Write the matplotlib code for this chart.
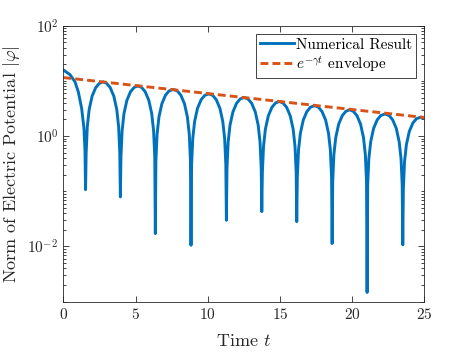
import matplotlib
matplotlib.use('Agg')
import matplotlib.pyplot as plt
import matplotlib.ticker as ticker
import numpy as np

plt.rcParams['font.family'] = 'serif'
plt.rcParams['font.serif'] = ['cmr10']
plt.rcParams['mathtext.fontset'] = 'cm'
plt.rcParams['axes.formatter.use_mathtext'] = True

# numerical result |phi|
t_num = [0.00, 0.46, 0.81, 1.04, 1.27, 1.43, 1.50, 1.54,
         1.58, 1.66, 1.79, 1.99, 2.24, 2.49, 2.75, 3.00, 3.25, 3.50, 3.70, 3.83, 3.91, 3.95,
         3.99, 4.07, 4.20, 4.40, 4.65, 4.90, 5.16, 5.42, 5.67, 5.92, 6.12, 6.25, 6.33, 6.37,
         6.41, 6.49, 6.62, 6.82, 7.07, 7.32, 7.61, 7.89, 8.14, 8.39, 8.59, 8.72, 8.80, 8.84,
         8.88, 8.96, 9.09, 9.29, 9.54, 9.79, 10.07, 10.34, 10.59, 10.84, 11.04, 11.17, 11.25, 11.29,
         11.33, 11.41, 11.54, 11.74, 11.99, 12.24, 12.52, 12.79, 13.04, 13.29, 13.49, 13.62, 13.70, 13.74,
         13.78, 13.86, 13.99, 14.19, 14.44, 14.69, 14.95, 15.21, 15.46, 15.71, 15.91, 16.04, 16.12, 16.16,
         16.20, 16.28, 16.41, 16.61, 16.86, 17.11, 17.39, 17.66, 17.91, 18.16, 18.36, 18.49, 18.57, 18.61,
         18.65, 18.73, 18.86, 19.06, 19.31, 19.56, 19.82, 20.08, 20.33, 20.58, 20.78, 20.91, 20.99, 21.03,
         21.07, 21.15, 21.28, 21.48, 21.73, 21.98, 22.27, 22.55, 22.80, 23.05, 23.25, 23.38, 23.46, 23.50,
         23.54, 23.62, 23.75, 23.95, 24.20, 24.45, 24.75, 25.00]
phi_num = [15.8, 13.0, 9.6, 6.3, 3.16, 1.37, 0.55, 0.107,
           0.49, 1.48, 3.03, 5.26, 7.53, 9.02, 9.6, 9.02, 7.53, 5.26, 3.03, 1.48, 0.49, 0.079,
           0.42, 1.25, 2.56, 4.44, 6.35, 7.61, 8.1, 7.61, 6.35, 4.44, 2.56, 1.25, 0.42, 0.0171,
           0.36, 1.08, 2.21, 3.84, 5.49, 6.58, 7.0, 6.58, 5.49, 3.84, 2.21, 1.08, 0.36, 0.0105,
           0.30, 0.90, 1.84, 3.19, 4.56, 5.47, 5.82, 5.47, 4.56, 3.19, 1.84, 0.90, 0.30, 0.0298,
           0.26, 0.77, 1.58, 2.74, 3.92, 4.70, 5.0, 4.70, 3.92, 2.74, 1.58, 0.77, 0.26, 0.0428,
           0.22, 0.65, 1.34, 2.32, 3.32, 3.98, 4.23, 3.98, 3.32, 2.32, 1.34, 0.65, 0.22, 0.0282,
           0.18, 0.55, 1.12, 1.95, 2.78, 3.34, 3.55, 3.34, 2.78, 1.95, 1.12, 0.55, 0.18, 0.0113,
           0.15, 0.46, 0.94, 1.64, 2.34, 2.81, 2.99, 2.81, 2.34, 1.64, 0.94, 0.46, 0.15, 0.00147,
           0.13, 0.39, 0.79, 1.38, 1.97, 2.36, 2.51, 2.36, 1.97, 1.38, 0.79, 0.39, 0.13, 0.0107,
           0.11, 0.34, 0.70, 1.21, 1.73, 2.07, 2.2, 2.12]

# e^{-gamma t} envelope
t_env = [0, 25]
phi_env = [11.5, 2.17]

fig = plt.figure(figsize=(4.69, 3.52), dpi=100)
ax = fig.add_axes([0.135, 0.143, 0.770, 0.784])

ax.plot(t_num, phi_num, color='#0072BD', lw=2.1, label='Numerical Result')
ax.plot(t_env, phi_env, color='#D95319', lw=2.1, ls=(0, (2.7, 1.4)), label=r'$e^{-\gamma t}$ envelope')

ax.set_yscale('log')
ax.set_xlim(0, 25)
ax.set_ylim(1e-3, 1e2)
ax.set_xticks([0, 5, 10, 15, 20, 25])
ax.yaxis.set_major_locator(ticker.FixedLocator([1e-2, 1e0, 1e2]))
ax.yaxis.set_minor_locator(ticker.LogLocator(base=10, subs=np.arange(1, 10), numticks=20))
ax.yaxis.set_minor_formatter(ticker.NullFormatter())

ax.tick_params(which='both', direction='in', top=True, right=True, colors='#262626',
               labelsize=11, width=0.6)
ax.tick_params(which='major', length=4)
ax.tick_params(which='minor', length=2)
for s in ax.spines.values():
    s.set_color('#262626')
    s.set_linewidth(0.6)

ax.set_xlabel(r'Time $t$', fontsize=13, color='#262626', labelpad=8)
ax.set_ylabel(r'Norm of Electric Potential $|\varphi|$', fontsize=13, color='#262626')

leg = ax.legend(loc='upper right', fontsize=11, fancybox=False, framealpha=1,
                edgecolor='#262626', handlelength=2.2, borderpad=0.25, labelspacing=0.15,
                handletextpad=0.15, borderaxespad=0.55)
leg.get_frame().set_linewidth(0.6)

fig.savefig('out.png', dpi=100)
